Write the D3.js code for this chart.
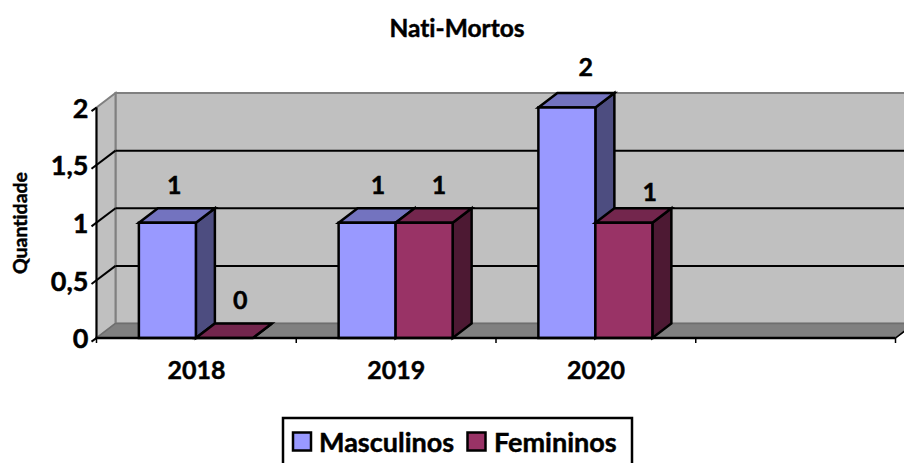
<!DOCTYPE html>
<html><head><meta charset="utf-8">
<script src="https://cdn.jsdelivr.net/npm/d3@7"></script>
<style>
html,body{margin:0;padding:0;background:#fff;overflow:hidden}
text{font-family:Lato,"Open Sans",sans-serif;font-weight:700;fill:#000;stroke:#000;stroke-width:0.45px;font-variant-ligatures:none}
</style></head><body>
<svg id="c" width="904" height="463"></svg>
<script>
const categories = ["2018","2019","2020",""];
const seriesNames = ["Masculinos","Femininos"];
const masculinos = [1,1,2,null];
const femininos = [0,1,1,null];
const yTicks = [0,0.5,1,1.5,2];
const chartTitle = "Nati-Mortos";
const yTitle = "Quantidade";

const svg = d3.select("#c");
const L=96.5,R=895.5,T=107.5,B=338, dx=19, dy=-14.5;
const x = d3.scaleBand().domain(categories).range([L,R]).paddingInner(0).paddingOuter(0);
const y = d3.scaleLinear().domain([0,2]).range([B,T]);
const colors = {
  Masculinos:{front:"#9999ff",top:"#7373bf",side:"#4d4d80"},
  Femininos:{front:"#993366",top:"#73264d",side:"#4d1933"}
};
const fmt = d => String(d).replace(".",",");
const poly = pts => pts.map(p=>p.join(",")).join(" ");

// walls & floor
svg.append("polygon").attr("points",poly([[L+dx,T+dy],[R+dx,T+dy],[R+dx,B+dy],[L+dx,B+dy]])).attr("fill","#c0c0c0").attr("stroke","#808080").attr("stroke-width",2);
svg.append("polygon").attr("points",poly([[L,T],[L+dx,T+dy],[L+dx,B+dy],[L,B]])).attr("fill","#c0c0c0").attr("stroke","#808080").attr("stroke-width",2);
svg.append("polygon").attr("points",poly([[L,B],[L+dx,B+dy],[R+dx,B+dy],[R,B]])).attr("fill","#808080").attr("stroke","#6e6e6e").attr("stroke-width",1.5);

// gridlines
const grid = yTicks.filter(t=>t>0&&t<2);
svg.append("g").selectAll("line").data(grid).join("line")
  .attr("x1",L+dx).attr("x2",R+dx).attr("y1",d=>y(d)+dy).attr("y2",d=>y(d)+dy)
  .attr("stroke","#000").attr("stroke-width",2);
svg.append("g").selectAll("line").data(yTicks).join("line")
  .attr("x1",L-5).attr("y1",d=>y(d)+3.6).attr("x2",d=>d===0||d===2?L:L+dx).attr("y2",d=>d===0||d===2?y(d):y(d)+dy)
  .attr("stroke","#000").attr("stroke-width",2);

// bars
const barW = 57;
const rows = [];
categories.forEach((c,i)=>{
  if(masculinos[i]!=null) rows.push({c,s:"Masculinos",v:masculinos[i],k:0});
  if(femininos[i]!=null) rows.push({c,s:"Femininos",v:femininos[i],k:1});
});
const xBar = d => x(d.c)+x.step()/2-barW+d.k*barW-0.5;
const g = svg.append("g").attr("stroke","#000").attr("stroke-width",2.5).attr("stroke-linejoin","miter");
rows.forEach(d=>{
  const x0=xBar(d), x1=x0+barW, yt=y(d.v), c=colors[d.s];
  const b=g.append("g");
  b.append("polygon").attr("points",poly([[x1,yt],[x1+dx,yt+dy],[x1+dx,B+dy],[x1,B]])).attr("fill",c.side);
  b.append("polygon").attr("points",poly([[x0,yt],[x0+dx,yt+dy],[x1+dx,yt+dy],[x1,yt]])).attr("fill",c.top);
  b.append("rect").attr("x",x0).attr("y",yt).attr("width",barW).attr("height",B-yt).attr("fill",c.front);
});

// axes
svg.append("line").attr("x1",L).attr("x2",L).attr("y1",T).attr("y2",B).attr("stroke","#000").attr("stroke-width",2);
svg.append("line").attr("x1",L-1).attr("x2",R).attr("y1",B).attr("y2",B).attr("stroke","#000").attr("stroke-width",2.5);
svg.append("line").attr("x1",R).attr("x2",R+dx).attr("y1",B).attr("y2",B+dy).attr("stroke","#000").attr("stroke-width",1.5);
svg.append("g").selectAll("line").data(d3.range(categories.length+1)).join("line")
  .attr("x1",i=>L+i*x.step()).attr("x2",i=>L+i*x.step()).attr("y1",B).attr("y2",B+5).attr("stroke","#000").attr("stroke-width",1.5);

const ya = svg.append("g").attr("transform",`translate(${L},0)`)
  .call(d3.axisLeft(y).tickValues(yTicks).tickFormat(fmt).tickSize(0).tickPadding(8));
ya.select(".domain").remove();
ya.selectAll("text").style("font-size","27px").attr("dy","0.36em");
const xa = svg.append("g").attr("transform",`translate(0,${B})`)
  .call(d3.axisBottom(x).tickSize(0).tickPadding(23));
xa.select(".domain").remove();
xa.selectAll("text").style("font-size","25px").attr("dy","0.71em");

// value labels
const labelNudge = {"2018Masculinos":[7,-38],"2018Femininos":[16,-38],"2019Masculinos":[11,-38],"2019Femininos":[15,-38],"2020Masculinos":[19,-41],"2020Femininos":[26,-31]};
svg.append("g").selectAll("text").data(rows).join("text")
  .attr("x",d=>xBar(d)+barW/2+labelNudge[d.c+d.s][0])
  .attr("y",d=>y(d.v)+labelNudge[d.c+d.s][1])
  .attr("dy","0.36em").attr("text-anchor","middle").style("font-size","25px").text(d=>d.v);

// titles
svg.append("text").attr("x",457).attr("y",28).attr("dy","0.36em").attr("text-anchor","middle").style("font-size","24.5px").text(chartTitle);
svg.append("text").attr("transform","translate(20,223) rotate(-90)").attr("dy","0.36em").attr("text-anchor","middle").style("font-size","19.5px").text(yTitle);

// legend
svg.append("rect").attr("x",283).attr("y",418).attr("width",349).attr("height",60).attr("fill","#fff").attr("stroke","#000").attr("stroke-width",2.5);
const lx=[293,467.5], tx=[319,494];
seriesNames.forEach((n,i)=>{
  svg.append("rect").attr("x",lx[i]).attr("y",432.5).attr("width",18).attr("height",18).attr("fill",colors[n].front).attr("stroke","#000").attr("stroke-width",2.5);
  svg.append("text").attr("x",tx[i]).attr("y",442).attr("dy","0.36em").style("font-size","27px").text(n);
});
</script></body></html>
